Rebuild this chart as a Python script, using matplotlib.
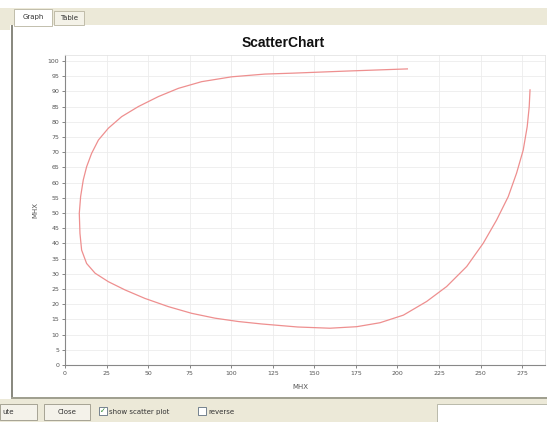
import matplotlib
matplotlib.use("Agg")
import matplotlib.pyplot as plt
from matplotlib.patches import Rectangle

# Data
x_vals = [206, 170, 137, 120.3, 100.3, 82.2, 68.2, 56.2, 44.1, 34.1, 26.1, 20.1, 16.0, 13.0,
          11.0, 9.4, 8.6, 9.0, 10.0, 13.0, 18.1, 26.1, 36.1, 48.1, 62.2, 76.2, 90.3, 104.3,
          118.3, 140, 159.4, 175.5, 189.5, 203.6, 217.6, 229.6, 241.7, 251.7, 259.7, 266.7,
          271.7, 275.7, 278.1, 279.3, 279.8]
y_vals = [97.4, 96.7, 96.0, 95.7, 94.8, 93.2, 91.0, 88.3, 85.0, 81.7, 77.9, 74.0, 69.6, 65.2,
          60.9, 55.4, 49.9, 43.3, 37.8, 33.4, 30.2, 27.4, 24.7, 21.9, 19.2, 17.0, 15.4, 14.3,
          13.5, 12.5, 12.1, 12.6, 13.9, 16.4, 20.9, 25.8, 32.4, 40.1, 47.7, 55.4, 63.1, 70.7,
          78.4, 84.9, 90.5]
x_ticks = list(range(0, 276, 25))
y_ticks = list(range(0, 101, 5))
title = "ScatterChart"
x_label = "MHX"
y_label = "MHX"

W, H = 547, 422
fig = plt.figure(figsize=(W / 100, H / 100), dpi=100)
fig.patch.set_facecolor("white")

def px_rect(x0, y0, w, h, **kw):
    fig.patches.append(Rectangle((x0 / W, 1 - (y0 + h) / H), w / W, h / H,
                                 transform=fig.transFigure, **kw))

beige = "#ece9d8"
# top tab strip
px_rect(0, 8, W, 17, facecolor=beige, edgecolor="none")
px_rect(14, 9, 38, 17, facecolor="white", edgecolor="#b8b4a0", linewidth=0.6)
px_rect(54, 11, 30, 14, facecolor="#f4f2e8", edgecolor="#b8b4a0", linewidth=0.6)
fig.text(33 / W, 1 - 17 / H, "Graph", fontsize=5, ha="center", va="center", color="#333333")
fig.text(69 / W, 1 - 18 / H, "Table", fontsize=5, ha="center", va="center", color="#333333")
# left border line of panel
px_rect(11, 25, 2, 373, facecolor="#8a8a80", edgecolor="none")
px_rect(0, 10, 10, 20, facecolor=beige, edgecolor="none")
# bottom bar
px_rect(11, 397, W, 1.5, facecolor="#a0a090", edgecolor="none")
px_rect(0, 399, W, 23, facecolor=beige, edgecolor="none")
px_rect(0, 404, 37, 16, facecolor="#f4f2ea", edgecolor="#9a9888", linewidth=0.6)
fig.text(8 / W, 1 - 412 / H, "ute", fontsize=5, ha="center", va="center", color="#333333")
px_rect(44, 404, 46, 16, facecolor="#f4f2ea", edgecolor="#9a9888", linewidth=0.6)
fig.text(67 / W, 1 - 412 / H, "Close", fontsize=5, ha="center", va="center", color="#333333")
px_rect(99, 407, 8, 8, facecolor="white", edgecolor="#607080", linewidth=0.6)
fig.text(103 / W, 1 - 411.5 / H, "✓", fontsize=5, ha="center", va="center", color="#208020")
fig.text(109 / W, 1 - 412 / H, "show scatter plot", fontsize=5, ha="left", va="center", color="#333333")
px_rect(198, 407, 8, 8, facecolor="white", edgecolor="#607080", linewidth=0.6)
fig.text(208 / W, 1 - 412 / H, "reverse", fontsize=5, ha="left", va="center", color="#333333")
px_rect(437, 404, 112, 18, facecolor="white", edgecolor="#b0b0a0", linewidth=0.6)

fig.text(283 / W, 1 - 43 / H, title, fontsize=10, fontweight="bold", ha="center", va="center",
         color="#111111", family="Liberation Sans")

# plot area
left, right, top, bottom = 65, 545, 55, 365
ax = fig.add_axes([left / W, 1 - bottom / H, (right - left) / W, (bottom - top) / H])
ax.set_facecolor("white")
xmax = (right - left) / 1.662
ymax = (bottom - top) / 3.04
ax.set_xlim(0, xmax)
ax.set_ylim(0, ymax)
ax.set_xticks(x_ticks)
ax.set_yticks(y_ticks)
ax.tick_params(labelsize=4.5, colors="#555555", length=2, width=0.5, pad=2)
ax.grid(True, color="#ececec", linewidth=0.6)
ax.set_axisbelow(True)
for s in ["top", "right"]:
    ax.spines[s].set_color("#e4e4e4")
    ax.spines[s].set_linewidth(0.6)
for s in ["left", "bottom"]:
    ax.spines[s].set_color("#888888")
    ax.spines[s].set_linewidth(0.8)

ax.plot(x_vals, y_vals, color="#ee8f8f", linewidth=0.9, solid_joinstyle="round")

fig.text(300 / W, 1 - 387 / H, x_label, fontsize=5, ha="center", va="center", color="#555555")
fig.text(35 / W, 1 - 210 / H, y_label, fontsize=5, ha="center", va="center", rotation=90,
         color="#555555")

fig.savefig("out.png", dpi=100)
